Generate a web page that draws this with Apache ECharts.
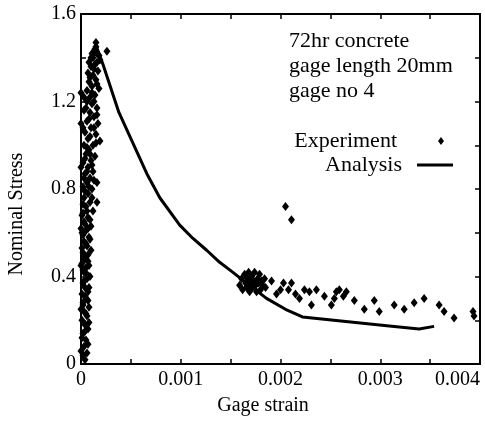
<!DOCTYPE html>
<html>
<head>
<meta charset="utf-8">
<script src="https://cdn.jsdelivr.net/npm/echarts@6/dist/echarts.min.js"></script>
<style>
  html, body { margin: 0; padding: 0; background: #fff; }
  #chart { width: 485px; height: 421px; }
</style>
</head>
<body>
<div id="chart"></div>
<script>
// axis ticks
const strainTicks = [0, 0.001, 0.002, 0.003, 0.004]
const stressTicks = [0, 0.4, 0.8, 1.2, 1.6]

// experiment, near-vertical loading branch [strain, stress]
const expRise = [
  [0.00004, 0.02], [0.00006, 0.05], [0.00003, 0.08], [0.00005, 0.11], [0.00002, 0.14],
  [0.00007, 0.16], [0.00004, 0.18], [0.00001, 0.2], [0.00006, 0.22], [0.00003, 0.24],
  [0.00008, 0.26], [0.00002, 0.28], [0.00005, 0.3], [0.00001, 0.32], [0.00007, 0.33],
  [0.00004, 0.35], [0.00002, 0.37], [0.00006, 0.39], [0.00009, 0.4], [0.00003, 0.42],
  [0.00005, 0.44], [0.00001, 0.46], [0.00007, 0.47], [0.00004, 0.49], [0.00002, 0.51],
  [0.0001, 0.52], [0.00006, 0.54], [0.00003, 0.56], [0.00008, 0.58], [0.00001, 0.6],
  [0.00005, 0.61], [0.0001, 0.63], [0.00003, 0.65], [0.00007, 0.67], [0.00002, 0.69],
  [0.00012, 0.7], [0.00005, 0.72], [0.00009, 0.74], [0.00016, 0.74], [0.00003, 0.76],
  [0.00007, 0.78], [0.00011, 0.8], [0.00002, 0.81], [0.00006, 0.83], [0.00016, 0.83],
  [0.00009, 0.85], [0.00004, 0.87], [0.00012, 0.88], [0.00007, 0.9], [0.00002, 0.92],
  [0.0001, 0.93], [0.00014, 0.95], [0.00005, 0.96], [0.00008, 0.98], [0.00003, 1.0],
  [0.00012, 1.0], [0.00019, 1.02], [0.00007, 1.03], [0.00015, 1.05], [0.00004, 1.06],
  [0.0001, 1.08], [0.00017, 1.1], [0.00006, 1.11], [0.00013, 1.13], [0.00009, 1.15],
  [0.00003, 1.16], [0.00016, 1.17], [0.00011, 1.19], [0.00006, 1.2], [0.00009, 1.22],
  [0.00014, 1.23], [0.00006, 1.25], [0.00018, 1.26], [0.00011, 1.27], [0.00008, 1.29],
  [0.00015, 1.3], [0.00012, 1.32], [0.00007, 1.33], [0.00017, 1.34], [0.0001, 1.36],
  [0.00014, 1.37], [0.00008, 1.38], [0.00019, 1.39], [0.00012, 1.4], [0.00016, 1.42],
  [0.00026, 1.43], [0.00011, 1.42], [0.00014, 1.44], [0.00015, 1.47],
  [0, 0.06], [0, 0.25], [0, 0.45], [0, 0.62], [0, 0.9], [0, 1.1], [0, 1.24],
  [0.00002, 0.04], [0.00007, 0.09], [0.00001, 0.12], [0.00004, 0.15], [0.00008, 0.19],
  [0.00005, 0.23], [0.00002, 0.27], [0.00007, 0.29], [0.00004, 0.31], [0.00008, 0.35],
  [0.00003, 0.38], [0.00006, 0.41], [0.00002, 0.43], [0.00008, 0.45], [0.00004, 0.48],
  [0.00007, 0.5], [0.00001, 0.53], [0.00005, 0.55], [0.00009, 0.57], [0.00002, 0.59],
  [0.00007, 0.62], [0.00004, 0.64], [0.00009, 0.66], [0.00001, 0.68], [0.00006, 0.7],
  [0.00002, 0.73], [0.00011, 0.76], [0.00004, 0.79], [0.00008, 0.81], [0.00013, 0.84],
  [0.00003, 0.85], [0.00006, 0.88], [0.00011, 0.91], [0.00004, 0.94], [0.00009, 0.96],
  [0.00006, 0.99], [0.00015, 1.01], [0.00009, 1.04], [0.00002, 1.08], [0.00013, 1.08],
  [0.00008, 1.12], [0.00016, 1.14], [0.00005, 1.17], [0.00013, 1.2], [0.00003, 1.22],
  [0.00011, 1.24], [0.00016, 1.28], [0.00009, 1.31], [0.00013, 1.35], [0.00016, 1.38],
  [0.0001, 1.4], [0.00013, 1.42], [0.00018, 1.41], [0.00015, 1.45]
]

// experiment, softening branch
const expTail = [
  [0.00159, 0.36], [0.00161, 0.39], [0.00162, 0.34], [0.00164, 0.41], [0.00165, 0.37],
  [0.00166, 0.35], [0.00167, 0.39], [0.00168, 0.42], [0.00169, 0.33], [0.0017, 0.37],
  [0.00171, 0.4], [0.00172, 0.35], [0.00173, 0.38], [0.00174, 0.42], [0.00175, 0.36],
  [0.00176, 0.33], [0.00177, 0.39], [0.00178, 0.37], [0.00179, 0.41], [0.0018, 0.34],
  [0.00181, 0.38], [0.00182, 0.36], [0.00184, 0.39], [0.00185, 0.35],
  [0.00191, 0.38], [0.00196, 0.32], [0.002, 0.34], [0.00203, 0.37], [0.00208, 0.34],
  [0.00211, 0.37], [0.00215, 0.32], [0.00219, 0.3], [0.00224, 0.34], [0.00229, 0.33],
  [0.00231, 0.27], [0.00236, 0.34], [0.00244, 0.31], [0.00251, 0.27], [0.00254, 0.3],
  [0.00256, 0.33], [0.00259, 0.34], [0.00263, 0.31], [0.00266, 0.33],
  [0.00205, 0.72], [0.00211, 0.66],
  [0.00274, 0.29], [0.00284, 0.25], [0.00294, 0.29], [0.00299, 0.24], [0.00314, 0.27],
  [0.00324, 0.25], [0.00334, 0.28], [0.00344, 0.3], [0.00359, 0.27], [0.00364, 0.24],
  [0.00374, 0.21], [0.00393, 0.24], [0.00394, 0.22]
]

// analysis curve
const analysis = [
  [0.00014, 1.47], [0.00022, 1.37], [0.00038, 1.15], [0.00054, 0.99], [0.00066, 0.87],
  [0.00079, 0.76], [0.00099, 0.635], [0.00112, 0.575], [0.00126, 0.52], [0.00139, 0.465],
  [0.00152, 0.42], [0.00166, 0.37], [0.00186, 0.3], [0.00205, 0.25], [0.00222, 0.215],
  [0.00309, 0.174], [0.00339, 0.16], [0.00354, 0.172]
]

const font = 'Liberation Serif'
const black = '#000'

function axisBase (show) {
  return {
    axisLine: { show: true, onZero: false, lineStyle: { color: black, width: 2 } },
    axisTick: { show: true, inside: true, length: 5, lineStyle: { color: black, width: 1.5 } },
    minorTick: { show: true, splitNumber: 2, length: 5, lineStyle: { color: black, width: 1.5 } },
    splitLine: { show: false },
    axisLabel: { show: show, color: black, fontFamily: font, fontSize: 20 }
  }
}

const chart = echarts.init(document.getElementById('chart'))
const option = {
  animation: false,
  backgroundColor: '#fff',
  title: {
    text: '72hr concrete\ngage length 20mm\ngage no 4',
    left: 284,
    top: 24,
    textStyle: { color: black, fontFamily: font, fontSize: 22, fontWeight: 'normal', lineHeight: 25 }
  },
  legend: [
    {
      data: ['Experiment'],
      right: 36,
      top: 125,
      align: 'right',
      itemWidth: 6,
      itemHeight: 8,
      itemStyle: { opacity: 1 },
      textStyle: { color: black, fontFamily: font, fontSize: 22, padding: [0, 36, 0, 0] }
    },
    {
      data: [{ name: 'Analysis', icon: 'rect' }],
      right: 27,
      top: 149,
      align: 'right',
      itemWidth: 36,
      itemHeight: 3,
      textStyle: { color: black, fontFamily: font, fontSize: 22, padding: [0, 10, 0, 0] }
    }
  ],
  grid: { left: 81, right: 5, top: 14, bottom: 57, outerBoundsMode: 'none', containLabel: false },
  xAxis: [
    Object.assign(axisBase(true), {
      type: 'value', position: 'bottom', min: 0, max: 0.004, interval: 0.001,
      name: 'Gage strain', nameLocation: 'middle', nameGap: 32,
      nameTextStyle: { color: black, fontFamily: font, fontSize: 20, padding: [0, 35, 0, 0] }
    }),
    Object.assign(axisBase(false), {
      type: 'value', position: 'top', min: 0, max: 0.004, interval: 0.001
    })
  ],
  yAxis: [
    Object.assign(axisBase(true), {
      type: 'value', position: 'left', min: 0, max: 1.6, interval: 0.4,
      name: 'Nominal Stress', nameLocation: 'middle', nameGap: 54,
      nameTextStyle: { color: black, fontFamily: font, fontSize: 20, padding: [0, 50, 0, 0] }
    }),
    Object.assign(axisBase(false), {
      type: 'value', position: 'right', min: 0, max: 1.6, interval: 0.4
    })
  ],
  series: [
    {
      name: 'Experiment',
      type: 'scatter',
      symbol: 'diamond',
      symbolSize: [7, 9],
      itemStyle: { color: black, opacity: 1 },
      data: expRise.concat(expTail)
    },
    {
      name: 'Analysis',
      type: 'line',
      symbol: 'none',
      lineStyle: { color: black, width: 3 },
      itemStyle: { color: black },
      data: analysis
    }
  ]
}
option.xAxis[0].axisLabel.formatter = v => (strainTicks.includes(v) ? String(v) : '')
option.yAxis[0].axisLabel.formatter = v => (stressTicks.includes(v) ? String(v) : '')
option.xAxis[0].axisLabel.margin = 6
option.yAxis[0].axisLabel.margin = 5
option.xAxis[0].axisLabel.showMaxLabel = true
option.xAxis[0].axisLabel.alignMaxLabel = 'right'
chart.setOption(option)
</script>
</body>
</html>
